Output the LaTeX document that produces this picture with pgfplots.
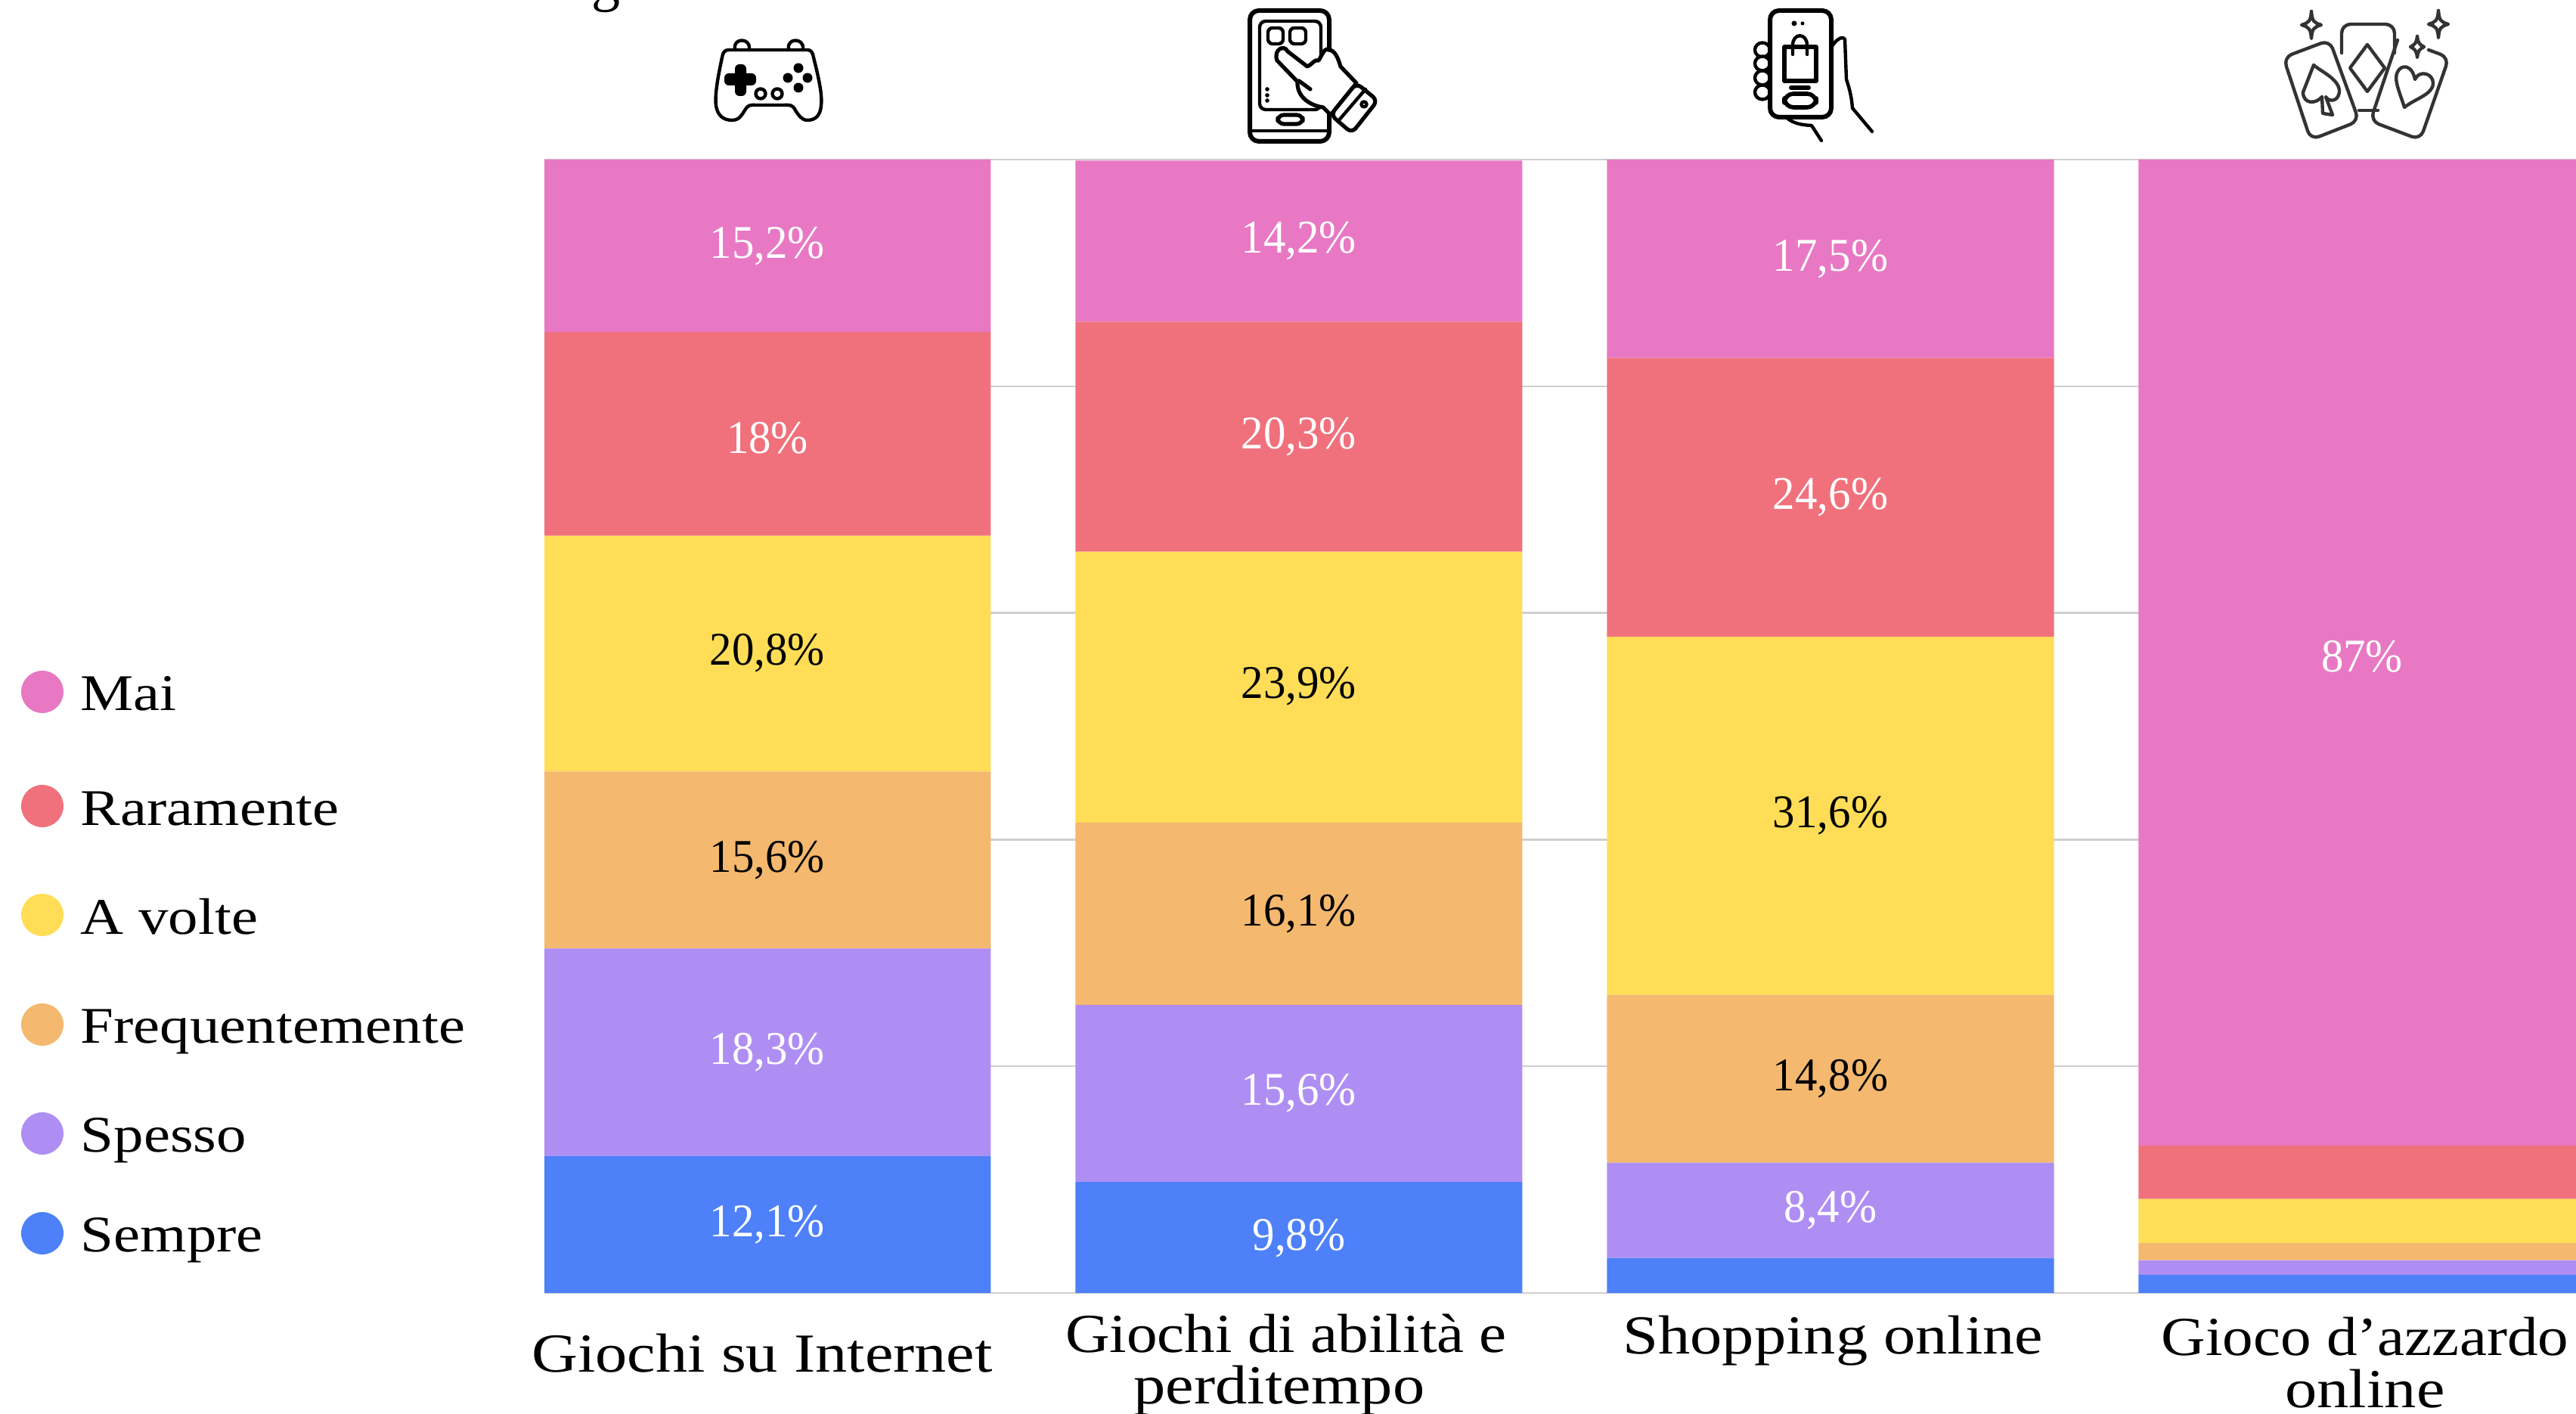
\documentclass[border=0pt]{standalone}
\usepackage{fontspec}
\usepackage{pgfplots}
\pgfplotsset{compat=1.18}
\setmainfont{Liberation Serif}
\newfontfamily\wide[FakeStretch=1.16]{Liberation Serif}
\newfontfamily\widb[FakeStretch=1.115]{Liberation Serif}
\newfontfamily\plain[FakeStretch=0.95]{Liberation Serif}
\definecolor{cMai}{HTML}{E878C4}
\definecolor{cRar}{HTML}{F0717C}
\definecolor{cVol}{HTML}{FFDD57}
\definecolor{cFre}{HTML}{F4B86E}
\definecolor{cSpe}{HTML}{AF8EF4}
\definecolor{cSem}{HTML}{4D80F9}
\definecolor{cGrid}{HTML}{CFCFCF}
\definecolor{cCard}{HTML}{333333}
% a line of a tick label: x offset, y offset (in pt, at .25pt per px), text
\newcommand\tlab[3]{\raisebox{#2}[0pt][0pt]{\makebox[0pt]{\hspace{#1}#3}}}
\pgfplotstableread{
x Sem Spe Fre Vol Rar Mai
0 12.1 18.3 15.6 20.8 18.0 15.2
1 9.8 15.6 16.1 23.9 20.3 14.2
2 3.1 8.4 14.8 31.6 24.6 17.5
3 1.6 1.3 1.5 3.9 4.7 87.0
}\shares
\pgfplotsset{common/.style={
  at={(180pt,40pt)},anchor=south west,scale only axis,
  width=671.75pt,height=374.75pt,
  xmin=-0.4196,xmax=3.4026,ymin=0,ymax=100}}
\begin{document}
\begin{tikzpicture}
\path[use as bounding box] (0,0) rectangle (851.75pt,467.5pt);
\begin{axis}[common,
  ybar stacked,bar width=0.8407,
  xtick={0,1,2,3},
  xticklabels={
    {\tlab{-3.5pt}{-26.25pt}{Giochi su Internet}},
    {\tlab{-8.5pt}{-19.75pt}{\widb Giochi di abilità e}\tlab{-13pt}{-36.75pt}{perditempo}},
    {\tlab{1.75pt}{-20.25pt}{Shopping online}},
    {\tlab{2pt}{-20.75pt}{\widb Gioco d’azzardo}\tlab{2pt}{-38pt}{online}}},
  xticklabel style={anchor=base,inner sep=0pt,font=\wide\fontsize{18.2}{20}\selectfont},
  xticklabel shift=0pt,
  ytick={0,20,40,60,80,100},yticklabels={},
  ymajorgrids,grid style={cGrid,line width=0.6pt},
  major tick length=0pt,
  axis line style={draw=none},
  clip=true]
\addplot[fill=cSem,draw=none] table[x=x,y=Sem]{\shares};
\addplot[fill=cSpe,draw=none] table[x=x,y=Spe]{\shares};
\addplot[fill=cFre,draw=none] table[x=x,y=Fre]{\shares};
\addplot[fill=cVol,draw=none] table[x=x,y=Vol]{\shares};
\addplot[fill=cRar,draw=none] table[x=x,y=Rar]{\shares};
\addplot[fill=cMai,draw=none] table[x=x,y=Mai]{\shares};
\end{axis}
\begin{axis}[common,hide axis,clip=false,
  nodes near coords={\pgfplotspointmeta\%},
  point meta=explicit symbolic]
\addplot[draw=none,mark=none,nodes near coords style={anchor=center,inner sep=0pt,yshift=-1.4pt,text=white,font=\plain\fontsize{15.5}{18}\selectfont}] table[meta=l]{
x y l
0 92.75 15,2
0 75.8 18
0 21.6 18,3
0 6.4 12,1
1 93.2 14,2
1 75.9 20,3
1 18.0 15,6
1 5.2 9,8
2 91.6 17,5
2 70.6 24,6
2 7.7 8,4
3 56.5 87
};
\addplot[draw=none,mark=none,nodes near coords style={anchor=center,inner sep=0pt,yshift=-1.4pt,text=black,font=\plain\fontsize{15.5}{18}\selectfont}] table[meta=l]{
x y l
0 56.8 20,8
0 38.55 15,6
1 53.9 23,9
1 33.8 16,1
2 42.5 31,6
2 19.3 14,8
};
\end{axis}
\begin{scope}[x=0.25pt,y=-0.25pt,yshift=467.5pt]
\clip (0,0) rectangle (3407,1870);
% fragment of the cropped title
\node[anchor=base west,inner sep=0pt,font=\plain\fontsize{20}{24}\selectfont] at (782,0) {g};
% legend
\foreach \c/\yc/\yb/\t in {cMai/915/940/Mai,cRar/1066/1092/Raramente,cVol/1210/1236/A volte,cFre/1355/1380/Frequentemente,cSpe/1499/1524/Spesso,cSem/1631/1656/Sempre}{
  \fill[\c] (56,\yc) circle[radius=28];
  \node[anchor=base west,inner sep=0pt,font=\wide\fontsize{17}{20}\selectfont] at (106,\yb) {\t};
}
% gamepad
\begin{scope}[line width=1.1pt,line join=round,line cap=round]
\draw (972,64) .. controls (970,50) and (992,50) .. (991,64);
\draw (1043,64) .. controls (1041,50) and (1063,50) .. (1062,64);
\draw (964,66) -- (1068,66) .. controls (1073,66) and (1075,70) .. (1076,76)
  .. controls (1082,100) and (1088,125) .. (1086,140) .. controls (1085,152) and (1079,159) .. (1068,159)
  .. controls (1060,159) and (1056,152) .. (1052,146) .. controls (1048,138) and (1045,139) .. (1036,139)
  -- (1000,139) .. controls (992,139) and (990,138) .. (985,146)
  .. controls (981,152) and (978,159) .. (968,159) .. controls (956,159) and (949,152) .. (947,140)
  .. controls (945,125) and (950,100) .. (955,76) .. controls (956,70) and (958,66) .. (964,66) -- cycle;
\fill[rounded corners=1.5pt] (972,85) rectangle (987,127);
\fill[rounded corners=1.5pt] (958,97) rectangle (1000,113);
\foreach \p in {(1056,90),(1042,103),(1068,103),(1056,116)} \fill \p circle[radius=6.5];
\draw (1006,124) circle[radius=6.5];
\draw (1028,124) circle[radius=6.5];
% phone and hand
\draw[line width=1.5pt,rounded corners=3pt] (1653,14) rectangle (1758,187);
\draw[rounded corners=2pt] (1666,28) rectangle (1747,145);
\draw[rounded corners=1.5pt] (1677,37) rectangle (1697,58);
\draw[rounded corners=1.5pt] (1706,37) rectangle (1727,58);
\draw[line width=1.3pt,rounded corners=2pt] (1690,152) rectangle (1723,164);
\draw (1653,173) -- (1758,173);
\foreach \yy in {118,126,133} \fill (1676,\yy) circle[radius=2.8];
\draw[fill=white,line width=1.3pt] (1689,80) .. controls (1684,66) and (1698,58) .. (1703,68)
  -- (1729,88) .. controls (1735,86) and (1738,78) .. (1744,80) .. controls (1748,74) and (1752,62) .. (1757,66)
  .. controls (1766,66) and (1770,78) .. (1773,88) -- (1794,110) -- (1760,152) -- (1750,142)
  .. controls (1735,140) and (1715,130) .. (1716,108) -- cycle;
\draw[line width=1.3pt] (1718,107) -- (1733,118);
\draw[fill=white,line width=1.3pt,rounded corners=2pt] (1794,110) -- (1822,133) -- (1788,176) -- (1760,152) -- cycle;
\draw (1806,118) -- (1770,160);
\draw (1804,138) circle[radius=3.5];
% phone in the hand, shopping bag
\draw (2422,63) .. controls (2426,55) and (2436,46) .. (2440,52) -- (2442,105) .. controls (2447,120) and (2449,130) .. (2450,143) -- (2476,174);
\draw (2362,155) .. controls (2368,160) and (2375,165) .. (2396,166) -- (2409,186);
\foreach \yy in {66,84,103,122} \draw[fill=white] (2331,\yy) ellipse[x radius=10,y radius=9.5];
\draw[fill=white,line width=1.5pt,rounded corners=3pt] (2341,14) rectangle (2422,155);
\fill (2373,31) circle[radius=3.5];
\fill (2384,31) circle[radius=2.5];
\draw[line width=1.4pt] (2360,62) rectangle (2402,107);
\draw (2371,72) -- (2371,60) .. controls (2371,43) and (2390,43) .. (2390,60) -- (2390,72);
\draw[line width=1.5pt] (2369,116) -- (2392,116);
\draw[line width=1.4pt,rounded corners=3pt] (2360,124) rectangle (2402,142);
% cards
\begin{scope}[draw=cCard]
\draw[rounded corners=3pt] (3097,70) -- (3097,32) -- (3167,32) -- (3167,70);
\draw (3120,146) -- (3145,146);
\draw (3131,59) -- (3154,90) -- (3131,121) -- (3108,90) -- cycle;
\draw[fill=white,rounded corners=3pt] (3020,76) -- (3081,53) -- (3120,160) -- (3056,185) -- cycle;
\draw[rounded corners=3pt] (3171,53) -- (3135,160) -- (3201,185) -- (3239,76) -- (3212,66);
\draw (3060,86) .. controls (3070,95) and (3095,105) .. (3094,122) .. controls (3092,135) and (3080,135) .. (3076,128) -- (3085,152) -- (3072,150) -- (3071,128)
  .. controls (3063,138) and (3046,138) .. (3046,122) -- cycle;
\draw (3180,142) .. controls (3175,125) and (3165,105) .. (3171,95) .. controls (3176,85) and (3190,85) .. (3194,105)
  .. controls (3200,92) and (3218,97) .. (3218,110) .. controls (3218,125) and (3195,130) .. (3180,142) -- cycle;
\foreach \cx/\cy/\rx/\ry in {3057/33/13/18,3225/32/13/18,3197/62/9/14}
  \draw (\cx,\cy-\ry) .. controls (\cx+1,\cy-5) and (\cx+3,\cy-3) .. (\cx+\rx,\cy)
    .. controls (\cx+3,\cy+3) and (\cx+1,\cy+5) .. (\cx,\cy+\ry)
    .. controls (\cx-1,\cy+5) and (\cx-3,\cy+3) .. (\cx-\rx,\cy)
    .. controls (\cx-3,\cy-3) and (\cx-1,\cy-5) .. (\cx,\cy-\ry);
\end{scope}
\end{scope}
\end{scope}
\end{tikzpicture}
\end{document}
